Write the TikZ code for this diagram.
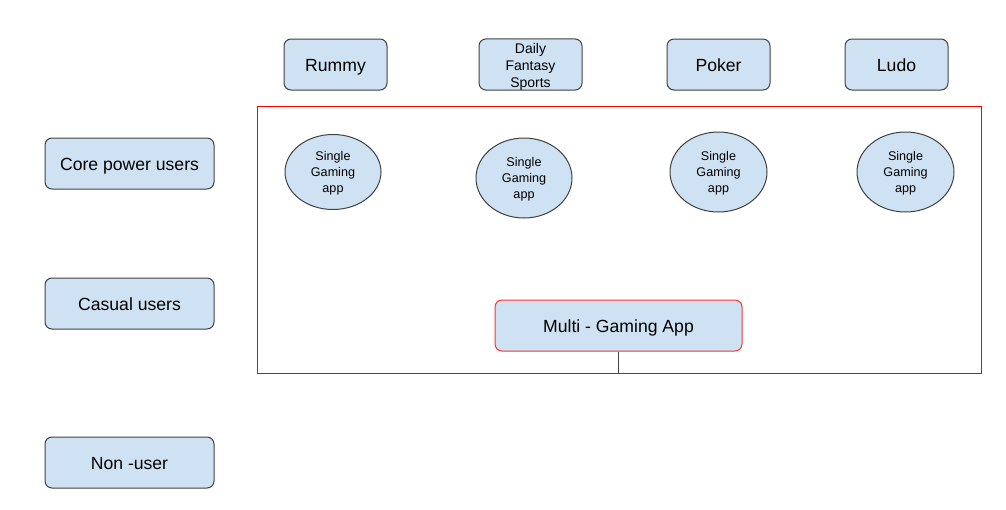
\documentclass[tikz,border=0pt]{standalone}
\usepackage{fontspec}
\setmainfont{Liberation Sans}
\usetikzlibrary{shapes.geometric}
\definecolor{boxfill}{HTML}{CFE2F3}
\definecolor{boxline}{HTML}{404040}
\tikzset{
  rbox/.style={draw=boxline, fill=boxfill, rounded corners=7pt, line width=1pt, inner sep=0pt, align=center},
  oval/.style={ellipse, draw=boxline, fill=boxfill, line width=1pt, inner sep=0pt, align=center, font=\fontsize{12.6}{16}\selectfont, text height=43.1pt, text depth=2.7pt},
  big/.style={font=\fontsize{17.6}{20}\selectfont, text height=16pt, text depth=2pt},
  mid/.style={font=\fontsize{14}{17}\selectfont, text height=48.2pt, text depth=2.9pt},
}
\begin{document}
\begin{tikzpicture}[x=1pt,y=-1pt]
\useasboundingbox (0,0) rectangle (1006,509);
% top game boxes
\node[rbox,big,minimum width=103pt,minimum height=51pt] (rummy) at (335.5,64.5) {Rummy};
\node[rbox,mid,minimum width=103pt,minimum height=51pt] (dfs) at (530.5,64.5) {Daily\\Fantasy\\Sports};
\node[rbox,big,minimum width=103pt,minimum height=51pt] (poker) at (718.5,64.5) {Poker};
\node[rbox,big,minimum width=103pt,minimum height=51pt] (ludo) at (896.5,64.5) {Ludo};
% user boxes
\node[rbox,big,minimum width=169pt,minimum height=51pt] (core) at (129.5,163.5) {Core power users};
\node[rbox,big,minimum width=169pt,minimum height=51pt] (casual) at (129.5,303.5) {Casual users};
\node[rbox,big,minimum width=169pt,minimum height=51pt] (non) at (129.5,462.5) {Non -user};
% red frame
\node[draw=red, line width=1pt, minimum width=724pt, minimum height=267pt, inner sep=0pt] (frame) at (619,239.5) {};
% single apps
\node[oval,minimum width=96pt,minimum height=75pt] (s1) at (333,172) {Single\\Gaming\\app};
\node[oval,minimum width=96pt,minimum height=80pt] (s2) at (524,178) {Single\\Gaming\\app};
\node[oval,minimum width=97pt,minimum height=80pt] (s3) at (718.5,172) {Single\\Gaming\\app};
\node[oval,minimum width=97pt,minimum height=80pt] (s4) at (905.5,172) {Single\\Gaming\\app};
% multi gaming
\node[rbox,big,draw=red!80!white,minimum width=247pt,minimum height=51pt] (multi) at (618.5,325.5) {Multi - Gaming App};
\draw[boxline, line width=1pt] (multi.south) -- (frame.south -| multi.south);
\end{tikzpicture}
\end{document}
